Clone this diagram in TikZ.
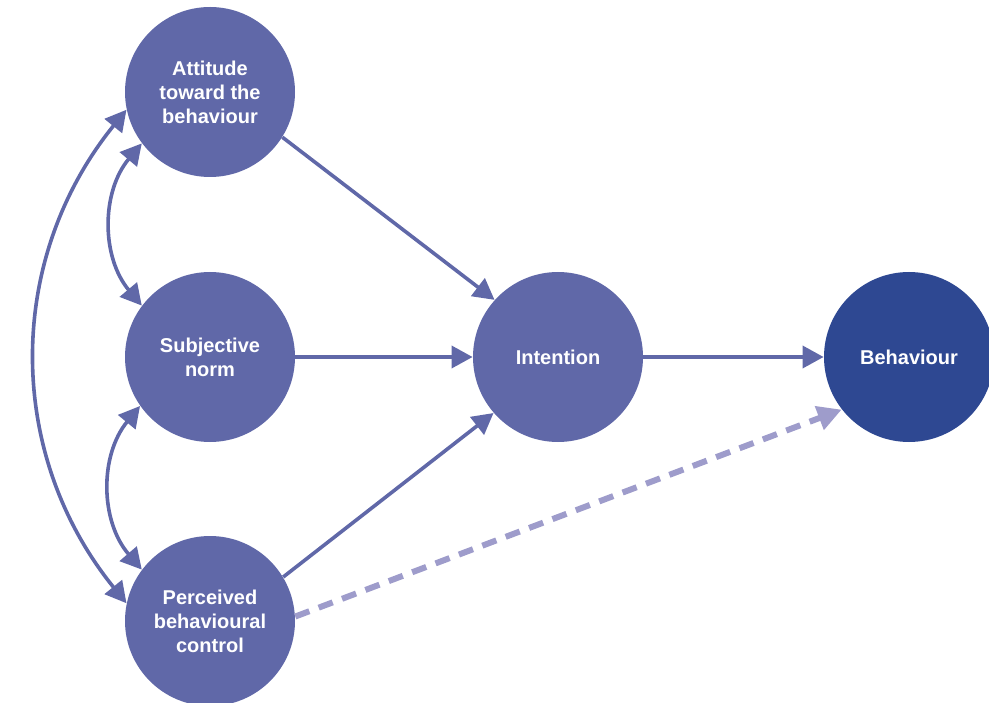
\documentclass[tikz,border=0pt]{standalone}
\usepackage{fontspec}
\setmainfont{Liberation Sans}
\usetikzlibrary{arrows.meta}
\definecolor{tpbblue}{RGB}{96,104,168}
\definecolor{tpbdark}{RGB}{46,72,146}
\definecolor{tpblight}{RGB}{158,156,203}
\tikzstyle{factor}=[circle,fill=tpbblue,text=white,minimum size=85pt,inner sep=0pt,align=center,font=\fontsize{10}{12}\selectfont\bfseries]
\tikzstyle{edge} = [draw,line width=1.8pt,tpbblue,-{Triangle[length=10.5pt,width=11pt]}]
\tikzstyle{link} = [edge,{Triangle[length=10.5pt,width=11pt]}-{Triangle[length=10.5pt,width=11pt]}]
\tikzstyle{weak} = [draw,line width=3pt,tpblight,dash pattern=on 7.5pt off 5pt,-{Triangle[length=12pt,width=12pt]}]

\begin{document}
\begin{tikzpicture}[x=0.5pt,y=0.5pt]

    \useasboundingbox (0,0) rectangle (989,702);

     \foreach \x/\y/\name/\txt in {210/610/att/{Attitude\\toward the\\behaviour}, 210/345/norm/{Subjective\\norm}, 210/81/pbc/{Perceived\\behavioural\\control}, 558/345/int/{Intention}}
        \node[factor] (\name) at (\x,\y) {\txt};
     \node[factor, fill=tpbdark] (beh) at (909,345) {Behaviour};

    \foreach \source/ \dest in {att.-32/int.138, norm/int, pbc.31/int.221, int/beh}
        \path[edge] (\source) -- (\dest);

    % correlations between the three predictors
    \draw[link] (att.217) to[bend right=40] (norm.143);
    \draw[link] (norm.215) to[bend right=40] (pbc.143);
    \draw[link] (att.192) to[bend right=39] (pbc.168);

    \path[weak] (pbc.3) -- (beh.218);

\end{tikzpicture}
\end{document}
